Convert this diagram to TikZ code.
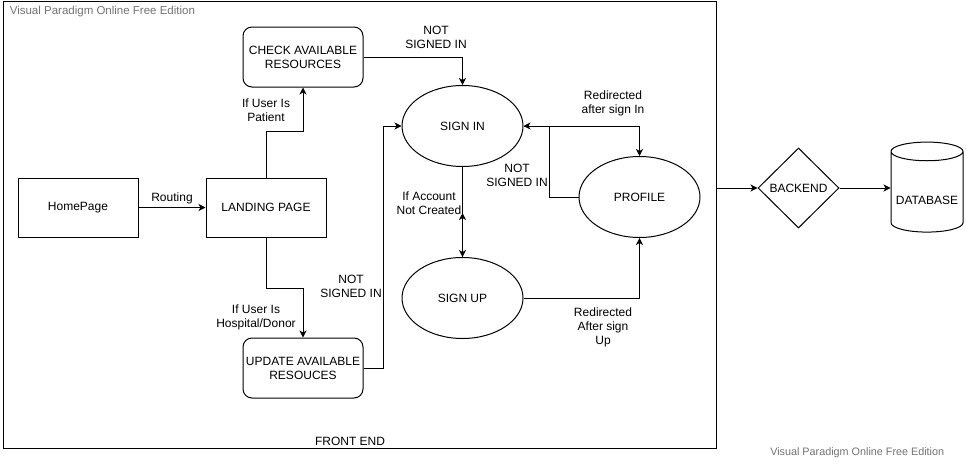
\documentclass[tikz,border=0pt]{standalone}
\usepackage{fontspec}
\setmainfont{Liberation Sans}
\usetikzlibrary{arrows.meta,shapes.geometric}

\begin{document}
\begin{tikzpicture}[x=1pt, y=-1pt, line width=1pt,
    >={Stealth[length=7pt,width=7pt,inset=2pt]},
    every node/.style={font=\fontsize{12}{14}\selectfont, align=center},
    box/.style={draw, rectangle, minimum width=120pt, minimum height=59pt, inner sep=0pt},
    rbox/.style={box, rounded corners=9pt, minimum height=60pt},
    oval/.style={draw, ellipse, minimum width=121pt, minimum height=81pt, inner sep=0pt},
    gate/.style={draw, diamond, minimum width=81pt, minimum height=80pt, inner sep=0pt},
    store/.style={draw, cylinder, shape border rotate=90, aspect=0.3, minimum width=72pt, minimum height=90pt, inner sep=0pt, text height=25pt},
    watermark/.style={text=black!55, font=\fontsize{11.5}{13}\selectfont}]
    \useasboundingbox (0,0) rectangle (966,463);

    \node[draw, minimum width=713pt, minimum height=447pt, inner sep=0pt] (front) at (359.5,224.5) {};
    \node[watermark, anchor=west] (wm1) at (6,12) {Visual Paradigm Online Free Edition};
    \node[watermark, font=\fontsize{10.8}{13}\selectfont, anchor=east] (wm2) at (948,453) {Visual Paradigm Online Free Edition};

    \node[box] (home) at (78,207.5) {HomePage};
    \node[box] (landing) at (266,207.5) {LANDING PAGE};
    \node[rbox] (check) at (303,57) {CHECK AVAILABLE\\RESOURCES};
    \node[rbox] (update) at (303,368) {UPDATE AVAILABLE\\RESOUCES};
    \node[oval] (signin) at (462.5,126) {SIGN IN};
    \node[oval] (signup) at (462.5,298) {SIGN UP};
    \node[oval] (profile) at (639.5,197) {PROFILE};
    \node[gate] (backend) at (798.5,188) {BACKEND};
    \node[store] (db) at (927,192) {DATABASE};
    \coordinate (acc) at (462.5,213);

    % labels
    \node (nsi1) at (436,37) {NOT\\SIGNED IN};
    \node (patient) at (266,110) {If User Is\\Patient};
    \node (donor) at (256,317) {If User Is\\Hospital/Donor};
    \node (nsi2) at (351,286) {NOT\\SIGNED IN};
    \node (nsi3) at (517,175) {NOT\\SIGNED IN};
    \node (account) at (429,203) {If Account\\Not Created};
    \node (rdin) at (613,103) {Redirected\\after sign In};
    \node (rdup) at (603,327) {Redirected\\After sign\\Up};
    \node (fe) at (350,441) {FRONT END};

    \draw[->] (home) -- node[above] {Routing} (landing);
    \draw[->] (landing.north) -- ++(0,-46) -| (check.south);
    \draw[->] (landing.south) -- ++(0,51) -| (update.north);
    \draw[->] (check.east) -| (signin.north);
    \draw[->] (update.east) -- ++(20,0) |- (signin.west);
    \draw[->] (signin.east) -| (profile.north);
    \draw[->] (profile.west) -- ++(-29,0) |- (signin.east);
    \draw[->] (signin.south) -- (signup.north);
    \draw[->] (signup.north) -- (acc);
    \draw[->] (signup.east) -| (profile.south);
    \draw[->] (front.east |- backend.west) -- (backend.west);
    \draw[->] (backend.east) -- (backend.east -| db.180);
\end{tikzpicture}
\end{document}
